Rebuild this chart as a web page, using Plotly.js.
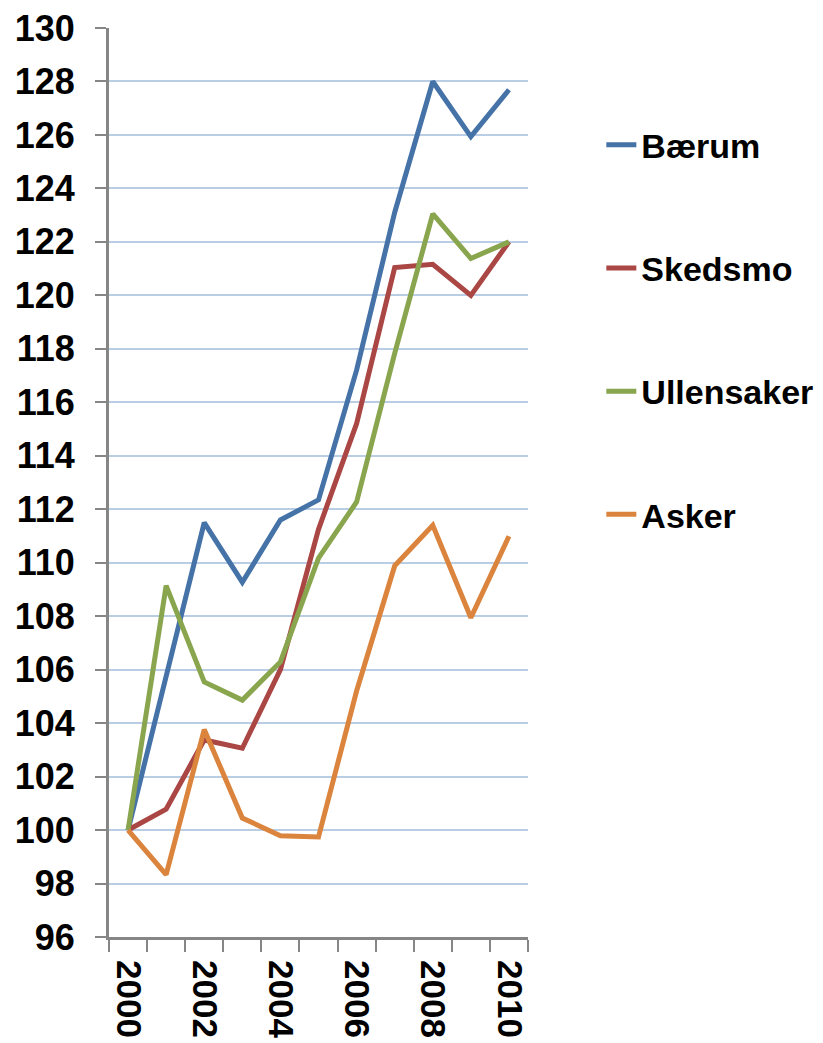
<!DOCTYPE html>
<html>
<head>
<meta charset="utf-8">
<script src="https://cdn.plot.ly/plotly-3.0.1.min.js"></script>
<style>
  html, body { margin: 0; padding: 0; background: #ffffff; }
  #chart { width: 823px; height: 1043px; }
</style>
</head>
<body>
<div id="chart"></div>
<script>
const years = [2000, 2001, 2002, 2003, 2004, 2005, 2006, 2007, 2008, 2009, 2010];
const tickYears = [2000, 2002, 2004, 2006, 2008, 2010];
const tickLabels = ["2000", "2002", "2004", "2006", "2008", "2010"];

const seriesNames = ["Bærum", "Skedsmo", "Ullensaker", "Asker"];
const baerum     = [100, 105.8, 111.5, 109.27, 111.6, 112.35, 117.2, 123.1, 128.0, 125.94, 127.69];
const skedsmo    = [100, 100.78, 103.37, 103.06, 106.0, 111.25, 115.2, 121.04, 121.16, 120.0, 122.0];
const ullensaker = [100, 109.14, 105.54, 104.86, 106.29, 110.17, 112.27, 117.83, 123.05, 121.38, 122.0];
const asker      = [100, 98.33, 103.76, 100.45, 99.79, 99.74, 105.2, 109.88, 111.4, 107.94, 110.99];
const seriesColors = ["#4572A7", "#AA4643", "#89A54E", "#DB843D"];

const allSeries = [baerum, skedsmo, ullensaker, asker];
const traces = allSeries.map((vals, i) => ({
  type: "scatter",
  mode: "lines",
  x: years,
  y: vals,
  name: seriesNames[i],
  legendgroup: "g" + i,
  line: { color: seriesColors[i], width: 5 },
  hoverinfo: "x+y+name"
}));

const fontFamily = "'Liberation Sans', Arial, sans-serif";
const axisGray = "#868686";

const layout = {
  width: 823,
  height: 1043,
  margin: { l: 109, r: 295, t: 28, b: 106, pad: 0, autoexpand: false },
  paper_bgcolor: "#ffffff",
  plot_bgcolor: "#ffffff",
  font: { family: fontFamily, size: 35, color: "#000000", weight: "bold" },
  showlegend: true,
  legend: {
    x: 1.175, xanchor: "left",
    y: 0.903, yanchor: "top",
    font: { family: fontFamily, size: 34, color: "#000000", weight: "bold" },
    tracegroupgap: 76,
    bgcolor: "rgba(0,0,0,0)",
    borderwidth: 0
  },
  xaxis: {
    range: [1999.5, 2010.5],
    tickmode: "array",
    tickvals: tickYears,
    ticktext: tickLabels,
    tickangle: 90,
    ticks: "",
    showgrid: false,
    zeroline: false,
    showline: true,
    linecolor: axisGray,
    linewidth: 3,
    ticklabelstandoff: 13,
    tickfont: { family: fontFamily, size: 35, color: "#000000", weight: "bold" },
    minor: {
      tickmode: "linear",
      tick0: 1999.5,
      dtick: 1,
      ticks: "outside",
      ticklen: 12,
      tickwidth: 2,
      tickcolor: axisGray,
      showgrid: false
    },
    fixedrange: true
  },
  yaxis: {
    range: [96, 130],
    tickmode: "linear",
    tick0: 96,
    dtick: 2,
    ticks: "outside",
    ticklen: 11,
    tickwidth: 2,
    tickcolor: axisGray,
    showgrid: true,
    gridcolor: "#B9CDE5",
    gridwidth: 2,
    zeroline: false,
    showline: true,
    linecolor: axisGray,
    linewidth: 3,
    ticklabelstandoff: 13,
    tickfont: { family: fontFamily, size: 36, color: "#000000", weight: "bold" },
    fixedrange: true
  }
};

Plotly.newPlot("chart", traces, layout, { displayModeBar: false, staticPlot: true });
</script>
</body>
</html>
